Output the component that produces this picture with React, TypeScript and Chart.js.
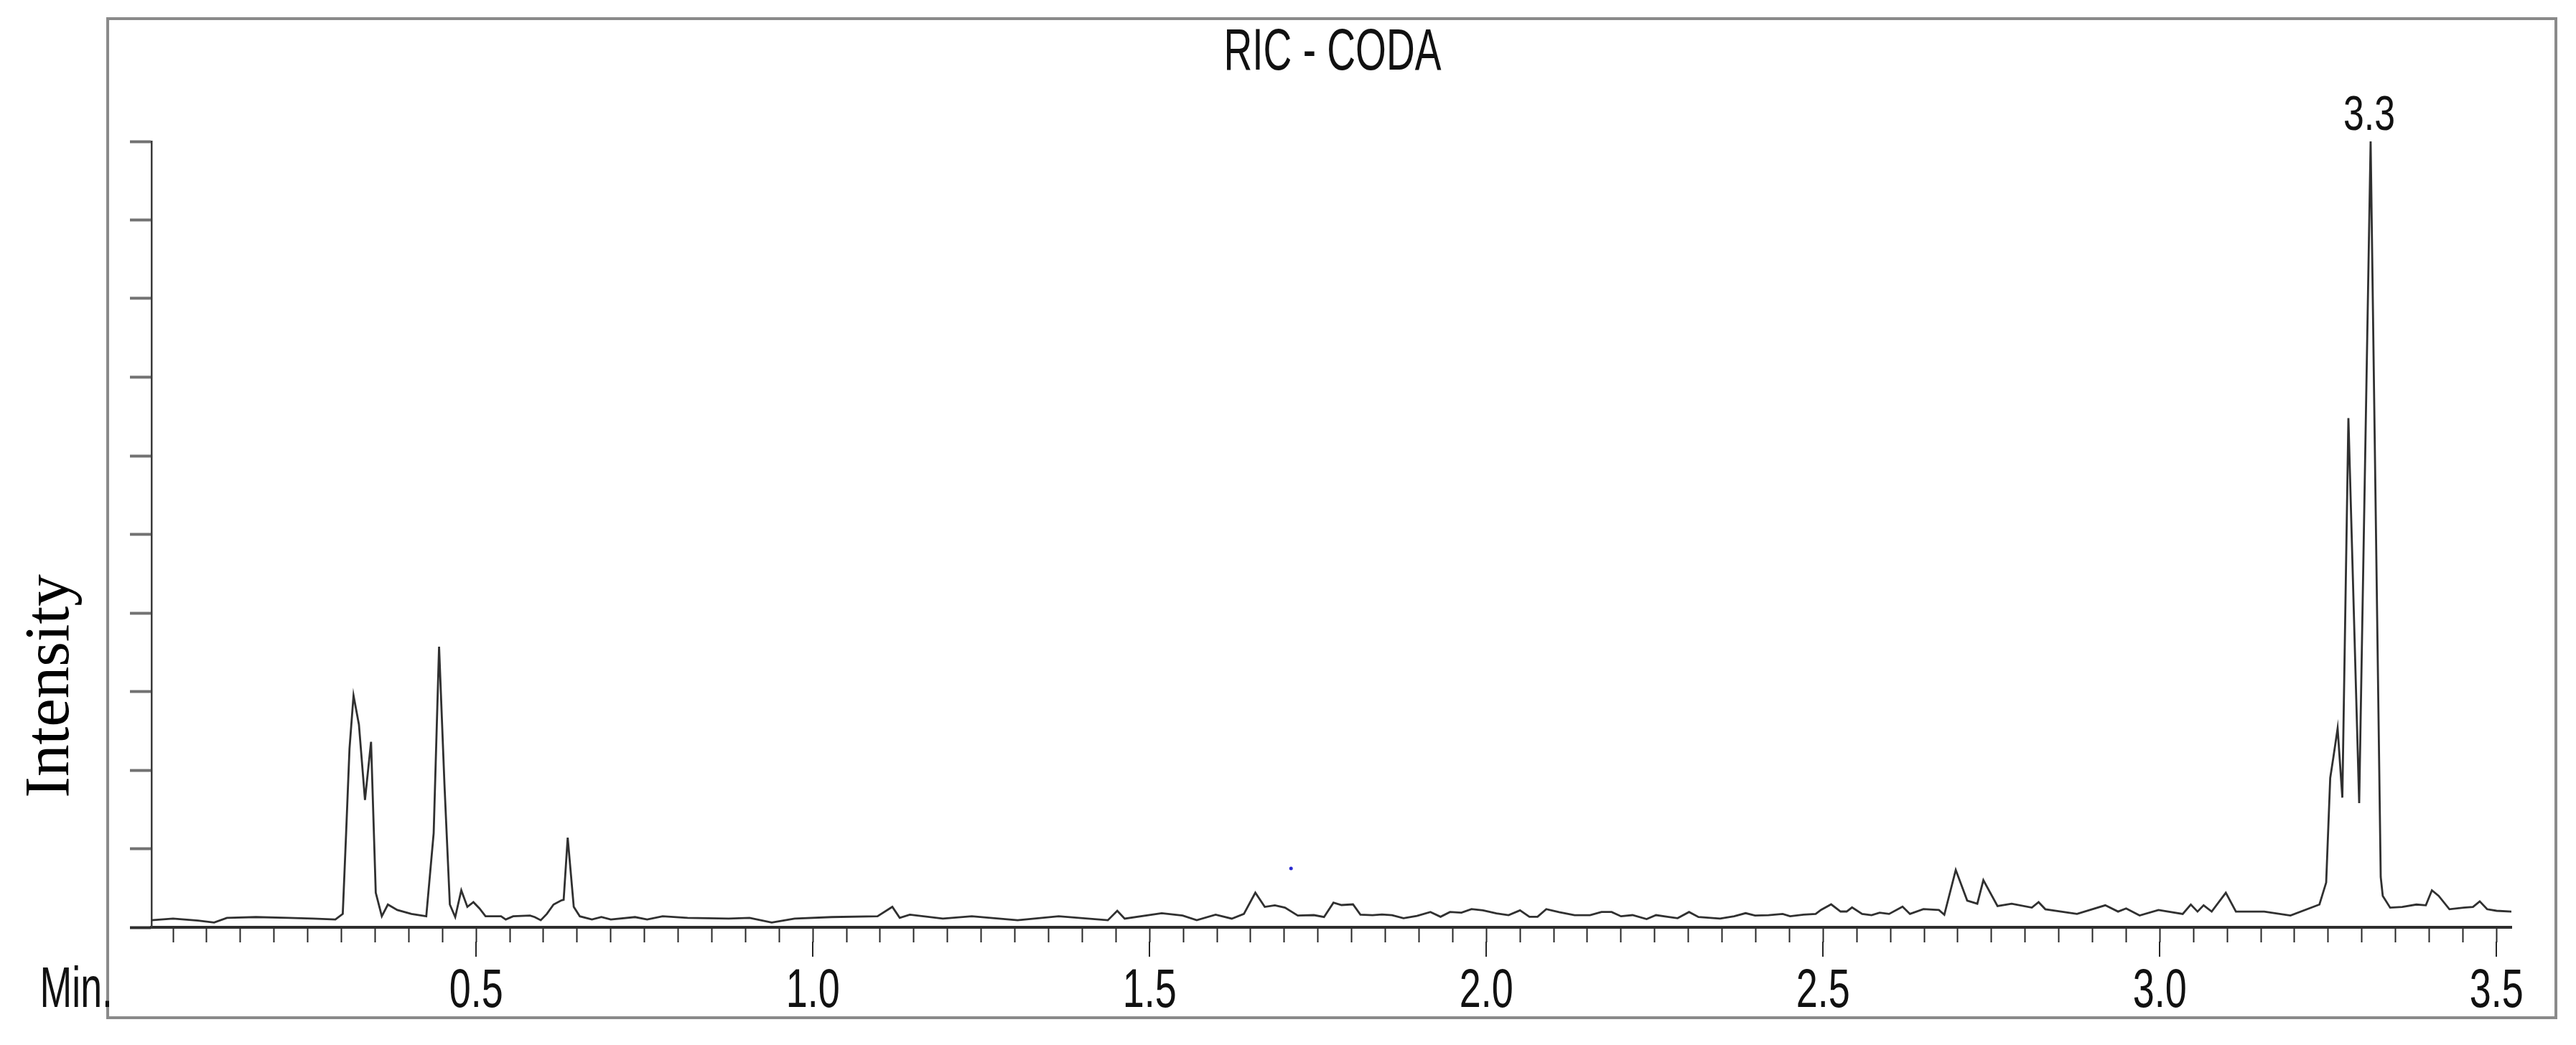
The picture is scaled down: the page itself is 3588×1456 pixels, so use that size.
import React, { useEffect, useRef } from 'react';
import { Chart, registerables } from 'chart.js';

Chart.register(...registerables);

// ---------- text ----------
const chartTitle = 'RIC - CODA';
const xUnitLabel = 'Min.';
const yAxisTitle = 'Intensity';

// ---------- data (retention time in min, relative intensity) ----------
const times = [
  // 0.0 - 1.72 min
  0.018, 0.05, 0.087, 0.111, 0.13, 0.173, 0.222, 0.258, 0.291, 0.302,
  0.307, 0.312, 0.318, 0.326, 0.335, 0.344, 0.351, 0.36, 0.369, 0.383,
  0.404, 0.426, 0.437, 0.445, 0.453, 0.461, 0.469, 0.478, 0.487, 0.496,
  0.505, 0.514, 0.537, 0.544, 0.555, 0.58, 0.587, 0.596, 0.605, 0.615,
  0.626, 0.63, 0.636, 0.645, 0.654, 0.672, 0.686, 0.7, 0.736, 0.754,
  0.777, 0.814, 0.875, 0.906, 0.939, 0.973, 1.028, 1.096, 1.118, 1.129,
  1.144, 1.193, 1.236, 1.304, 1.365, 1.438, 1.452, 1.463, 1.518, 1.549,
  1.57, 1.598, 1.622, 1.64, 1.657, 1.671, 1.686, 1.701, 1.72,
  // 1.74 - 2.65 min
  1.744, 1.759, 1.773, 1.785, 1.802, 1.813, 1.831, 1.845, 1.86, 1.877,
  1.897, 1.917, 1.932, 1.946, 1.963, 1.978, 1.995, 2.015, 2.033, 2.05,
  2.064, 2.076, 2.089, 2.108, 2.131, 2.154, 2.171, 2.186, 2.2, 2.217,
  2.238, 2.252, 2.269, 2.284, 2.301, 2.315, 2.347, 2.368, 2.385, 2.399,
  2.419, 2.44, 2.451, 2.471, 2.489, 2.497, 2.512, 2.526, 2.535, 2.543,
  2.558, 2.572, 2.584, 2.598, 2.618, 2.629, 2.649,
  // 2.67 - 3.52 min
  2.672, 2.68, 2.697, 2.714, 2.729, 2.738, 2.759, 2.78, 2.81, 2.82,
  2.83, 2.877, 2.919, 2.938, 2.95, 2.97, 2.998, 3.034, 3.046, 3.056,
  3.065, 3.077, 3.098, 3.113, 3.155, 3.194, 3.237, 3.247, 3.253, 3.258,
  3.264, 3.271, 3.28, 3.296, 3.313, 3.328, 3.331, 3.342, 3.36, 3.381,
  3.395, 3.404, 3.414, 3.43, 3.451, 3.465, 3.475, 3.486, 3.5, 3.522,
];
const intensity = [
  // 0.0 - 1.72 min
  0.9, 1.1, 0.85, 0.6, 1.2, 1.3, 1.2, 1.1, 1.0, 1.7,
  12, 22.7, 29.5, 25.8, 16.2, 23.6, 4.4, 1.4, 2.9, 2.2,
  1.7, 1.4, 12, 35.7, 18.2, 2.9, 1.3, 4.7, 2.6, 3.2,
  2.4, 1.4, 1.4, 1.0, 1.4, 1.5, 1.3, 0.9, 1.7, 2.9,
  3.4, 3.5, 11.4, 2.6, 1.4, 1.0, 1.3, 1.0, 1.3, 1.0,
  1.4, 1.2, 1.1, 1.2, 0.6, 1.1, 1.3, 1.4, 2.6, 1.2,
  1.6, 1.1, 1.4, 0.9, 1.4, 0.9, 2.1, 1.1, 1.8, 1.5,
  0.9, 1.6, 1.1, 1.7, 4.4, 2.6, 2.8, 2.5, 1.5,
  // 1.74 - 2.65 min
  1.55, 1.31, 3.13, 2.83, 2.92, 1.61, 1.55, 1.64, 1.55, 1.16,
  1.46, 1.95, 1.34, 1.95, 1.86, 2.31, 2.16, 1.77, 1.55, 2.16,
  1.34, 1.34, 2.31, 1.92, 1.55, 1.55, 1.95, 1.95, 1.4, 1.55,
  1.04, 1.55, 1.34, 1.16, 1.95, 1.31, 1.1, 1.4, 1.8, 1.49,
  1.55, 1.7, 1.4, 1.61, 1.7, 2.22, 2.92, 2.01, 2.01, 2.53,
  1.7, 1.55, 1.86, 1.7, 2.62, 1.7, 2.31,
  // 2.67 - 3.52 min
  2.2, 1.6, 7.3, 3.4, 3.0, 6.0, 2.7, 3.0, 2.5, 3.2,
  2.3, 1.7, 2.8, 2.0, 2.4, 1.5, 2.2, 1.7, 2.9, 2.0,
  2.8, 2.0, 4.4, 2.0, 2.0, 1.5, 2.9, 5.7, 19, 21.8,
  25.3, 16.5, 64.8, 15.8, 100, 6.4, 4.0, 2.5, 2.6, 2.9,
  2.8, 4.7, 4.0, 2.3, 2.5, 2.6, 3.3, 2.3, 2.1, 2.0,
];

// stray blue mark visible in the plot
const markTimes = [1.71];
const markValues = [7.5];

// labelled peaks
const peakTimes = [3.313];
const peakLabels = ['3.3'];

// axis ticks
const xMajorTicks = [0.5, 1.0, 1.5, 2.0, 2.5, 3.0, 3.5];
const xTickLabels = ['0.5', '1.0', '1.5', '2.0', '2.5', '3.0', '3.5'];
const X_MIN = 0.018;
const X_MAX = 3.522;
const X_MINOR_STEP = 0.05;
const Y_MIN = 0;
const Y_MAX = 100;
const Y_STEP = 10;

// ---------- layout / style ----------
const W = 3588;
const H = 1456;
const SANS = "'Liberation Sans', Arial, Helvetica, sans-serif";
const SERIF = "'Liberation Serif', 'Times New Roman', serif";
const FRAME = { left: 150, top: 26, right: 3560, bottom: 1418 };
const MINOR_TICK = 21;
const MAJOR_TICK = 41;

// draw horizontally condensed text (the reference uses a condensed face)
function condensedText(ctx: any, text: string, x: number, y: number, size: number, sx: number, align: string) {
  ctx.save();
  ctx.translate(x, y);
  ctx.scale(sx, 1);
  ctx.font = `${size}px ${SANS}`;
  ctx.textAlign = align;
  ctx.textBaseline = 'alphabetic';
  ctx.fillText(text, 0, 0);
  ctx.restore();
}

const decorPlugin = {
  id: 'decor',
  afterDraw(chart: any) {
    const { ctx, chartArea } = chart;
    const xs = chart.scales.x;
    const ys = chart.scales.y;
    ctx.save();
    // outer frame
    ctx.strokeStyle = '#8a8a8a';
    ctx.lineWidth = 4;
    ctx.strokeRect(FRAME.left, FRAME.top, FRAME.right - FRAME.left, FRAME.bottom - FRAME.top);

    // longer major ticks
    ctx.strokeStyle = '#262626';
    ctx.lineWidth = 2;
    ctx.beginPath();
    xMajorTicks.forEach((v) => {
      const px = Math.round(xs.getPixelForValue(v));
      ctx.moveTo(px, xs.top + MINOR_TICK - 1);
      ctx.lineTo(px, xs.top + MAJOR_TICK);
    });
    ctx.stroke();

    ctx.fillStyle = '#111';
    // title
    condensedText(ctx, chartTitle, (FRAME.left + FRAME.right) / 2 + 1, chartArea.top - 100, 81, 0.68, 'center');

    // x tick labels
    xMajorTicks.forEach((v, i) => {
      const px = xs.getPixelForValue(v);
      condensedText(ctx, xTickLabels[i], px, xs.top + 111, 76, 0.71, 'center');
    });

    // unit label "Min."
    condensedText(ctx, xUnitLabel, 157, xs.top + 111, 79, 0.68, 'right');

    // peak labels
    peakTimes.forEach((t, i) => {
      let idx = 0;
      let best = Infinity;
      times.forEach((tt, j) => {
        const d = Math.abs(tt - t);
        if (d < best) { best = d; idx = j; }
      });
      const px = xs.getPixelForValue(times[idx]);
      const py = ys.getPixelForValue(intensity[idx]);
      condensedText(ctx, peakLabels[i], px - 2, py - 16, 69, 0.75, 'center');
    });

    // y axis title
    ctx.save();
    ctx.translate(95, 956);
    ctx.rotate(-Math.PI / 2);
    ctx.font = `89px ${SERIF}`;
    ctx.textAlign = 'center';
    ctx.textBaseline = 'alphabetic';
    ctx.fillStyle = '#000';
    ctx.fillText(yAxisTitle, 0, 0);
    ctx.restore();

    ctx.restore();
  },
};

export default function App() {
  const ref = useRef<HTMLCanvasElement | null>(null);

  useEffect(() => {
    const canvas = ref.current;
    if (!canvas) return;
    const lineData = times.map((t, i) => ({ x: t, y: intensity[i] }));
    const markData = markTimes.map((t, i) => ({ x: t, y: markValues[i] }));

    const chart = new Chart(canvas, {
      type: 'line',
      data: {
        datasets: [
          {
            label: 'RIC',
            data: lineData,
            borderColor: '#303030',
            borderWidth: 2.8,
            pointRadius: 0,
            tension: 0,
            fill: false,
            clip: false as any,
          },
          {
            type: 'scatter' as any,
            label: 'mark',
            data: markData,
            pointRadius: 2.5,
            pointBackgroundColor: '#2a2ad0',
            pointBorderWidth: 0,
            showLine: false,
          } as any,
        ],
      },
      options: {
        animation: false,
        responsive: false,
        devicePixelRatio: 1,
        events: [],
        layout: { padding: { left: 181, right: W - 3498, top: 197, bottom: 0 } },
        plugins: {
          legend: { display: false },
          tooltip: { enabled: false },
          title: { display: false },
        },
        scales: {
          x: {
            type: 'linear',
            min: X_MIN,
            max: X_MAX,
            afterFit: (s: any) => { s.height = H - 1292; },
            border: { display: true, color: '#2e2e2e', width: 4 },
            grid: {
              drawOnChartArea: false,
              drawTicks: true,
              tickLength: MINOR_TICK,
              tickColor: '#262626',
              tickWidth: 2,
            },
            ticks: {
              display: false,
              stepSize: X_MINOR_STEP,
              includeBounds: false,
              autoSkip: false,
              maxRotation: 0,
              minRotation: 0,
            },
          },
          y: {
            type: 'linear',
            min: Y_MIN,
            max: Y_MAX,
            afterFit: (s: any) => { s.width = 30; },
            border: { display: true, color: '#3a3a3a', width: 2.5 },
            grid: {
              drawOnChartArea: false,
              drawTicks: true,
              tickLength: 30,
              tickColor: (c: any) => (c.tick && c.tick.value === 0 ? '#2e2e2e' : '#727272'),
              tickWidth: 4,
            },
            ticks: { display: false, stepSize: Y_STEP },
          },
        },
      } as any,
      plugins: [decorPlugin],
    });
    return () => chart.destroy();
  }, []);

  return (
    <div style={{ position: 'absolute', left: 0, top: 0, width: W, height: H, background: '#fff' }}>
      <canvas ref={ref} width={W} height={H} style={{ display: 'block', width: W, height: H }} />
    </div>
  );
}
